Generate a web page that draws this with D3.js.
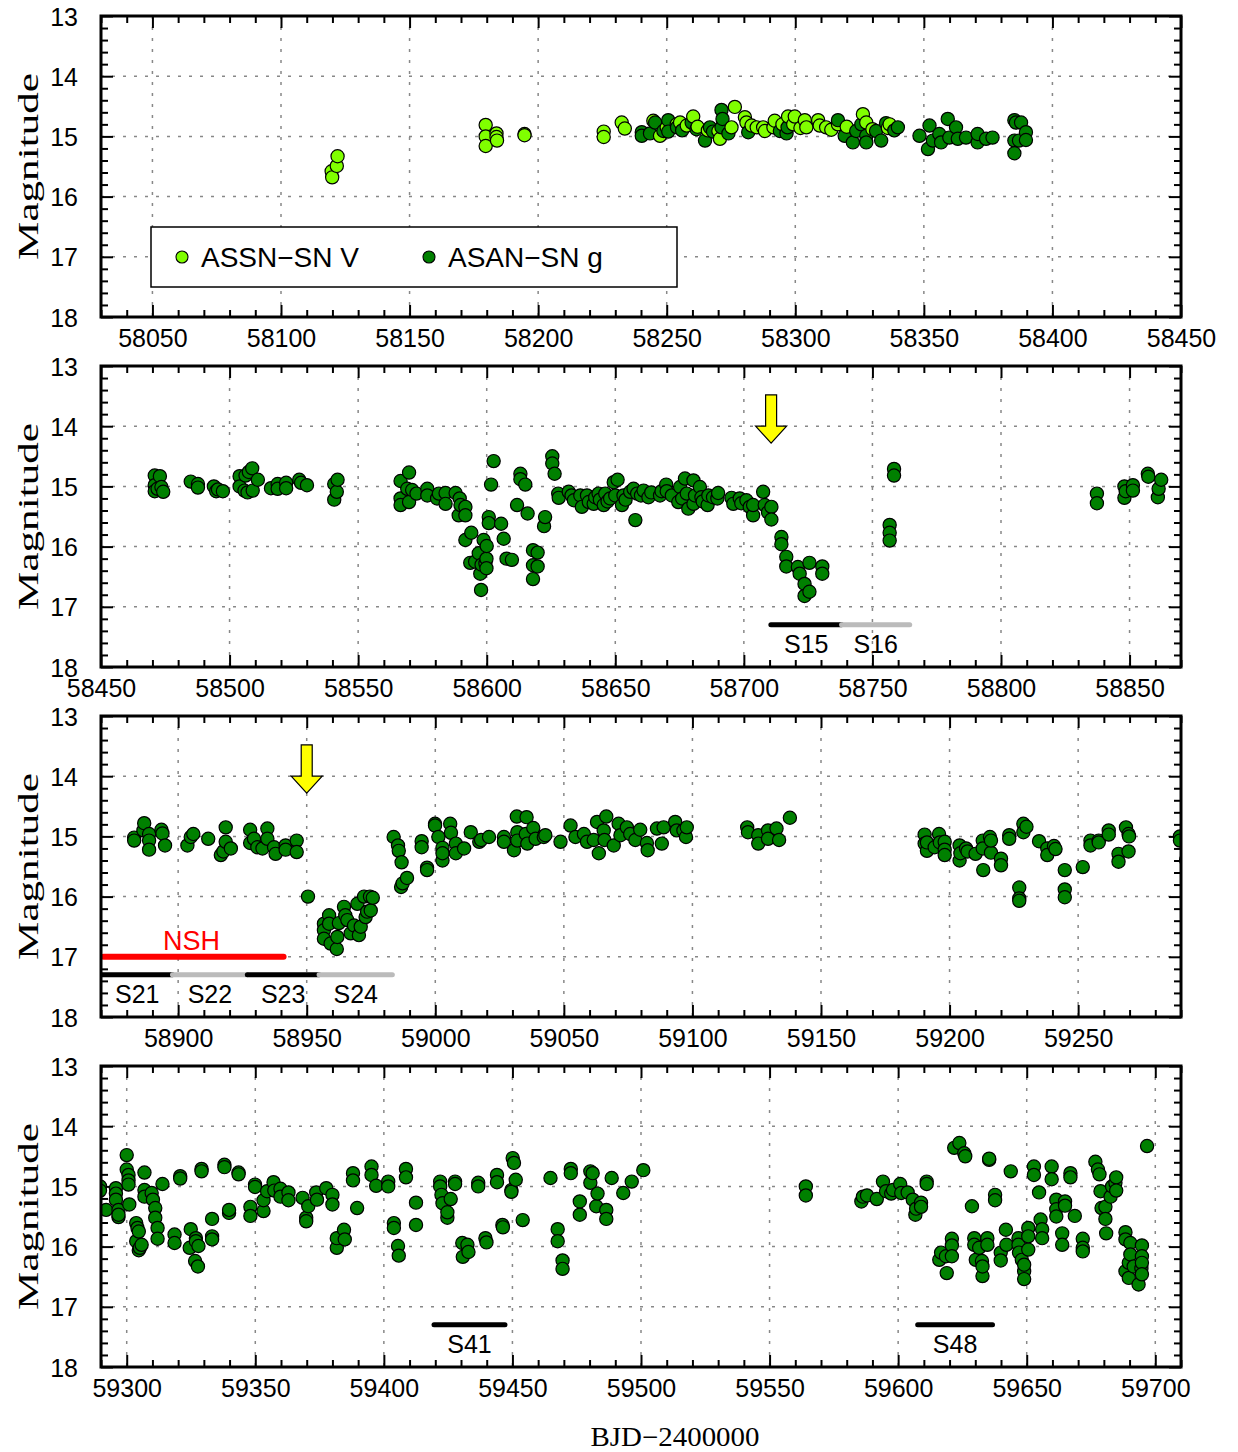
<!doctype html>
<html lang="en">
<head>
<meta charset="utf-8">
<title>ASAS-SN light curve</title>
<script src="https://d3js.org/d3.v7.min.js"></script>
<style>
  body { margin: 0; background: #fff; }
  svg { display: block; }
  .tick text { font-family: "Liberation Sans", Arial, sans-serif; font-size: 25px; fill: #000; }
  .tick line { stroke: #000; stroke-width: 2; }
  .grid { stroke: #888; stroke-width: 1.5; stroke-dasharray: 3,8; }
  .dot { stroke: #000; stroke-width: 1.2; }
</style>
</head>
<body>
<script>
// panel ranges (BJD-2400000), each 420 days wide
const panelStart = [58030, 58450, 58870, 59290];
const panelSpan = 420;

// ASAS-SN V band, [day, mag]
const vPanel1 = [
  [58119.9,15.68],[58119.7,15.58],[58121.7,15.49],[58122.0,15.33],
  [58179.6,14.81],[58179.6,15.0],[58179.6,15.16],[58183.8,14.95],[58183.8,15.01],[58184,15.07],
  [58194.7,14.96],[58194.7,14.98],
  [58225.5,14.92],[58225.5,15.01],[58232.5,14.77],[58233.7,14.87],
  [58244.8,14.74],[58247.4,14.99],[58250,14.85],[58253.9,14.80],[58255.2,14.77],[58257.8,14.82],[58260.3,14.67],
  [58262,14.84],[58266,14.9],[58270.1,14.91],[58270.7,15.04],[58275.2,14.85],[58276.5,14.51],[58280.4,14.68],
  [58281,14.77],[58283,14.82],[58285,14.85],[58287.5,14.85],[58288.2,14.91],[58291.5,14.85],[58292,14.74],
  [58295,14.8],[58297.2,14.67],[58299.2,14.80],[58299.8,14.67],[58302,14.86],[58303.7,14.73],[58304.3,14.85],
  [58308.9,14.73],[58309.5,14.82],[58312,14.85],[58314,14.89],[58316.6,14.8],[58320,14.84],[58326.3,14.63],
  [58327.6,14.77],[58330,14.88],[58336,14.86],[58336.7,14.80]
];

// ASAS-SN g band, [day, mag]
const gPanel1 = [
  [58240.3,14.93],[58240.3,14.99],[58243.5,14.95],[58245.5,14.77],[58248.7,14.91],[58250.6,14.73],[58250.6,14.92],
  [58254,14.85],[58256,14.9],[58259.7,14.77],[58261.6,14.88],[58264.9,15.07],[58266.8,14.85],[58268,14.92],
  [58271.3,14.56],[58271.7,14.71],[58271.3,14.85],[58274,14.95],[58281.7,14.93],[58294,14.91],[58296.6,14.95],
  [58297,14.85],[58316.6,14.73],[58319.2,14.99],[58322.4,15.1],[58323.7,14.91],[58325.7,14.8],[58327.6,14.99],
  [58327.6,15.10],[58331.4,14.91],[58333.4,15.07],[58335.3,14.78],[58338.5,14.9],[58339.9,14.85],
  [58348.3,14.99],[58351.6,15.21],[58352.2,14.82],[58353.5,15.07],[58356,14.96],[58356.7,15.1],[58359.3,14.71],
  [58359.9,15.02],[58362.5,14.85],[58363.2,15.04],[58366.4,15.02],[58370.9,15.1],[58370.9,14.96],[58374.2,15.04],
  [58376.7,15.02],
  [58385.2,14.73],[58385.8,14.77],[58387.8,14.77],[58389.7,14.93],[58385.2,15.07],[58387,15.07],[58385.2,15.28],
  [58389.7,15.06]
];
const gPanel2 = [
  [58470.9,14.82],[58472.9,14.83],[58470.9,14.98],[58470.9,15.08],[58473.5,15.01],[58474.2,15.09],[58472,15.04],
  [58484.9,14.92],[58487.7,14.96],[58487.7,15.02],
  [58493.9,15.0],[58494.8,15.08],[58497.4,15.08],[58495.5,15.05],
  [58503.9,14.83],[58503.9,15.0],[58506.2,14.82],[58507.5,14.76],[58508.8,14.70],[58505.8,15.07],[58509,15.07],
  [58511,14.89],[58507,15.1],
  [58516.1,15.03],[58518.7,14.96],[58518.7,15.04],[58522,14.94],[58522,15.03],
  [58527.1,14.89],[58527.8,14.94],[58530.1,14.98],
  [58540.7,14.96],[58542,14.89],[58541.7,15.09],[58540.7,15.22],
  [58566.5,14.91],[58569.8,14.77],[58566.5,15.2],[58566.5,15.31],[58569.8,15.26],[58569.1,15.04],[58571,15.06],
  [58572.7,15.12],
  [58576.9,15.04],[58576.9,15.15],[58580.7,15.2],[58581.4,15.12],[58584,15.11],[58584,15.29],[58587.9,15.11],
  [58589.5,15.2],[58589.8,15.31],[58591.7,15.34],[58589.1,15.48],[58591.7,15.48],
  [58591.7,15.89],[58594,15.77],[58593.6,16.27],[58595.5,16.25],
  [58598.8,15.89],[58600,15.99],[58596.9,16.11],[58597.5,16.45],[58597.8,16.72],[58599.9,16.2],[58599.9,16.36],
  [58599.5,16.28],[58598,16.3],
  [58600.8,15.51],[58600.8,15.61],[58601.7,14.97],[58602.7,14.58],
  [58605.6,15.62],[58606.6,15.87],[58607.7,16.2],[58609.8,16.22],
  [58611.8,15.31],[58613.1,14.79],[58613.1,14.88],[58615,14.97],[58615.9,15.45],
  [58618,16.06],[58619.8,16.1],[58618,16.31],[58619.8,16.33],[58618,16.54],
  [58622.7,15.51],[58622.3,15.66],
  [58625.5,14.50],[58625.5,14.62],[58626.4,14.79],
  [58627.8,15.12],[58628,15.19],[58631.9,15.09],[58633,15.15],[58633.9,15.23],
  [58636.4,15.15],[58637,15.34],[58639,15.15],[58639.7,15.26],[58641.6,15.29],[58642.2,15.18],[58643.5,15.12],
  [58644,15.22],[58645.5,15.31],[58646.1,15.12],[58647,15.25],[58648,15.2],[58649.4,14.93],[58650.9,14.89],
  [58650,15.15],[58652.6,15.31],[58653.2,15.15],[58654,15.22],[58655.8,15.09],[58657.1,15.04],[58657.8,15.56],
  [58658.5,15.12],[58660,15.15],[58661,15.07],[58662.9,15.18],[58664,15.1],[58667.4,15.15],[58668,15.08],
  [58669.8,14.97],[58670,15.08],[58672,15.15],
  [58674.5,15.26],[58675.2,15.01],[58676,15.2],[58677.1,14.87],[58677.8,15.12],[58678.4,15.37],[58680.4,14.9],
  [58680.4,15.29],[58681,15.15],[58682.9,15.01],[58683.5,15.18],[58684,15.25],[58685.9,15.31],[58686.2,15.15],
  [58688,15.18],[58689.7,15.2],[58690,15.11],
  [58695.2,15.19],[58695.9,15.29],[58698.4,15.2],[58699,15.28],[58701,15.23],[58702.3,15.34],[58703.6,15.48],
  [58703.6,15.31],[58707.5,15.09],[58708.1,15.31],[58709.4,15.43],[58710.7,15.34],[58710.7,15.55],
  [58714.6,15.84],[58714.6,15.96],[58716.5,16.17],[58716.5,16.33],[58721,16.34],[58721.7,16.45],[58723.6,16.62],
  [58723.6,16.82],[58725.5,16.75],[58725.5,16.27],[58730.5,16.33],[58730.5,16.45],
  [58756.7,15.64],[58756.7,15.77],[58756.7,15.9],[58758.4,14.71],[58758.4,14.82],
  [58837.3,15.12],[58837.3,15.28],[58848,15.0],[58848,15.19],[58848.5,15.08],[58851.3,14.98],[58851.3,15.07],
  [58857.1,14.79],[58857.3,14.84],[58861,15.18],[58861.3,15.04],[58862.3,14.89]
];
const gPanel3 = [
  [58882.9,15.02],[58882.9,15.07],[58886.8,14.78],[58886.5,14.90],[58888.7,14.96],[58888.7,15.07],[58888.7,15.22],
  [58893.5,14.89],[58893.9,14.95],[58894.9,15.15],
  [58903.6,15.15],[58904.9,15.01],[58905.9,14.96],[58911.7,15.04],[58916.6,15.31],[58918.5,14.85],[58918.5,15.09],
  [58920.5,15.2],[58917.6,15.25],
  [58928,14.89],[58928,15.11],[58929.5,15.04],[58930.8,15.18],[58932.8,15.2],[58934.7,14.87],[58934.7,15.04],
  [58937.3,15.18],[58937.9,15.29],[58941.8,15.15],[58941.8,15.22],[58946.1,15.07],[58946.1,15.26],
  [58950.5,16.0],
  [58956.7,16.45],[58956.7,16.56],[58956.7,16.7],[58958.7,16.31],[58958.7,16.45],[58959.3,16.78],[58961.7,16.87],
  [58961.9,16.67],[58962.5,16.44],[58964.5,16.17],[58965,16.31],[58965.8,16.39],[58967.1,16.61],[58968.4,16.48],
  [58969.7,16.12],[58970.3,16.64],[58971,16.5],[58972.3,16.0],[58972.9,16.34],[58973.5,16.25],[58974.6,16.0],
  [58974.9,16.23],[58975.7,16.02],
  [58983.8,15.01],[58985.5,15.15],[58985.8,15.24],[58986.9,15.43],[58986.7,15.84],[58987.3,15.78],[58989,15.69],
  [58994.7,15.08],[58994.7,15.18],[58996.8,15.52],[58996.8,15.56],
  [58999.9,14.79],[58999.9,14.82],[59001.2,15.01],[59002.8,15.19],[59002.8,15.4],[59002.8,15.28],[59005.8,14.79],
  [59006.1,14.94],[59008,15.12],[59008,15.28],[59011.2,15.2],[59013.8,14.93],[59017.1,15.09],[59017.8,15.06],
  [59020.9,15.01],
  [59026.7,15.01],[59026.7,15.09],[59030.6,15.23],[59031.7,14.67],[59031.9,14.93],[59031.9,15.07],[59035.5,14.68],
  [59035.8,15.12],[59035.2,14.96],[59038.1,14.86],[59039,15.04],[59042.2,15.01],[59042.8,14.98],
  [59048.7,15.09],
  [59052.6,14.82],[59054.5,15.01],[59057.8,14.96],[59059,15.09],[59061.6,15.06],[59062.9,14.76],[59063.6,15.28],
  [59065.5,14.9],[59066.5,14.67],[59065.8,15.06],[59069.4,15.15],[59071.3,14.79],[59072,14.98],[59074.5,14.85],
  [59075.8,14.96],[59077.8,15.06],[59079.7,14.89],[59082.3,15.11],[59082.6,15.23],[59086.2,14.87],[59088.1,15.12],
  [59088.8,14.85],[59093.3,14.76],[59093.9,14.9],[59096.5,14.9],[59097.5,15.01],[59097.8,14.85],
  [59121.3,14.85],[59121.6,14.93],[59125.6,14.98],[59125.6,15.12],[59129.4,14.9],[59129.4,15.04],[59132.7,14.87],
  [59133.7,15.06],[59137.9,14.69],
  [59190.3,14.97],[59190.3,15.12],[59191.2,15.24],[59191.2,15.1],[59194.2,15.18],[59195.9,14.96],[59196.2,15.1],
  [59198.1,15.09],[59198.1,15.22],[59198.1,15.31],
  [59203.9,15.15],[59203.9,15.4],[59204.2,15.28],[59206.4,15.2],[59207,15.25],[59210.1,15.29],[59212.9,15.07],
  [59212.9,15.2],[59213.1,15.56],[59215.7,15.01],[59216.1,15.27],[59216.1,15.07],
  [59220,15.37],[59220,15.48],[59223.2,14.98],[59223.2,15.04],
  [59227.1,15.85],[59227.1,16.03],[59227.1,16.07],
  [59228.7,14.79],[59228.7,14.93],[59229.9,14.84],
  [59234.8,15.08],[59238,15.2],[59238,15.31],[59240.6,15.16],[59241.2,15.21],
  [59244.8,15.56],[59244.8,15.88],[59244.8,16.01],
  [59251.8,15.51],
  [59254.8,15.07],[59254.8,15.15],[59258,15.07],[59258,15.1],[59261.9,14.9],[59261.9,14.97],
  [59265.7,15.29],[59265.7,15.42],[59268.6,14.85],[59269.6,14.96],[59269.8,15.0],[59269.6,15.25],
  [59289.6,15.0],[59289.6,15.07]
];
const gPanel4 = [
  [59292,15.39],[59295.8,15.03],[59295.8,15.12],[59295.8,15.22],[59296.8,15.39],[59296.8,15.51],[59296.8,15.47],
  [59300,14.48],[59300,14.72],[59300.7,14.81],[59300.7,14.9],[59300.7,14.97],[59301,15.3],
  [59303.7,15.61],[59304.2,15.69],[59304.7,15.75],[59303.7,15.91],[59305.1,16.02],[59305.8,15.97],[59304.7,16.06],
  [59306.9,14.77],[59306.9,15.06],[59306.9,15.17],[59309.7,15.11],[59310.2,15.22],[59311.1,15.36],[59311.1,15.52],
  [59312,15.69],[59312,15.87],[59313.9,14.96],
  [59318.6,15.8],[59318.6,15.94],[59320.8,14.83],[59320.8,14.87],
  [59324.9,15.71],[59326.9,15.86],[59324.5,16.02],[59326.6,16.24],[59327.7,16.33],[59327.9,15.99],[59326.9,15.91],
  [59329.1,14.71],[59329.1,14.75],
  [59333.2,15.54],[59333.2,15.83],[59333.2,15.88],
  [59338,14.64],[59338,14.68],[59339.8,15.44],[59339.8,15.39],[59343.5,14.77],[59343.5,14.8],
  [59348.1,15.34],[59348.1,15.49],[59349.9,14.97],[59349.9,15.01],
  [59353.2,15.41],[59353.2,15.23],[59354.6,15.08],[59357.1,14.93],[59357.4,15.07],[59359.8,15.04],[59359.8,15.17],
  [59362.9,15.10],[59362.9,15.23],
  [59368.4,15.19],[59369.8,15.52],[59369.8,15.58],[59370.6,15.33],[59373.7,15.1],[59374,15.22],[59377.6,15.03],
  [59380,15.14],[59380,15.3],
  [59381.7,16.02],[59381.7,15.86],[59384.5,15.72],[59384.8,15.88],
  [59388,14.78],[59388,14.9],[59389.6,15.36],
  [59395.2,14.67],[59395.2,14.81],[59397,14.99],
  [59401.7,14.92],[59401.7,15.0],[59403.9,15.61],[59403.9,15.69],[59405.5,15.99],[59405.8,16.15],
  [59408.6,14.71],[59408.6,14.85],[59412.5,15.27],[59412.5,15.64],
  [59421.9,14.92],[59421.9,15.0],[59422.4,15.14],[59422.8,15.28],[59424.7,15.52],[59424.7,15.43],[59426,15.21],
  [59427.7,14.92],[59427.7,14.96],
  [59430.5,15.94],[59430.7,16.17],[59432.5,15.97],[59432.9,16.09],
  [59436.7,14.94],[59436.7,15.0],[59439.5,15.86],[59439.9,15.93],[59444,14.81],[59444,14.93],
  [59446.1,15.64],[59446.3,15.68],
  [59449.6,15.06],[59449.6,15.09],[59450.1,14.53],[59450.6,14.61],[59451.3,14.89],[59454,15.56],
  [59464.8,14.86],[59467.6,15.71],[59467.6,15.91],[59469.5,16.23],[59469.5,16.37],[59472.7,14.71],[59472.7,14.78],
  [59476.2,15.25],[59476.2,15.47],[59480.3,14.75],[59481.2,14.78],[59480.3,14.94],[59483.1,15.12],[59482.6,15.33],
  [59486.5,15.39],[59486.5,15.54],[59488.6,14.86],
  [59493.1,15.11],[59496.4,14.92],[59500.9,14.73],
  [59564.1,15.0],[59564.1,15.15],
  [59585.7,15.25],[59586.3,15.17],[59587.9,15.15],[59591.7,15.21],[59594.1,14.92],[59595.3,15.08],[59597.3,15.12],
  [59598,15.06],[59600.8,14.96],[59601.2,15.11],[59603.7,15.1],[59605.7,15.22],[59606.7,15.47],[59607,15.37],
  [59608.9,15.27],[59608.9,15.34],[59611.1,14.92],[59611.1,14.96],
  [59616,16.22],[59616.7,16.1],[59618.6,16.16],[59618.9,16.44],[59620.9,15.87],[59620.9,15.98],[59620.9,16.16],
  [59621.8,14.36],[59623.8,14.28],[59625.7,14.45],[59626.1,14.5],
  [59628.7,15.33],
  [59629.6,15.86],[59629.6,15.97],[59630.2,16.22],[59631.5,16.02],[59632.6,16.24],[59632.8,16.49],[59632.8,16.33],
  [59634.7,15.86],[59634.7,15.97],[59635.4,14.56],[59635.4,14.54],
  [59637.7,15.14],[59637.7,15.23],[59639.9,16.1],[59639.9,16.23],[59641.9,15.72],[59642.1,15.97],[59643.8,14.75],
  [59646.8,15.86],[59646.8,15.97],[59647,16.1],[59648.1,16.22],[59649,16.41],[59649,16.54],[59649,16.3],
  [59650.6,16.05],[59650.6,15.69],[59650.6,15.83],
  [59652.8,14.67],[59652.8,14.81],[59654.8,15.1],[59655.4,15.55],[59656,15.71],[59656,15.86],
  [59659.7,14.67],[59659.7,14.88],
  [59661.5,15.22],[59661.5,15.38],[59661.5,15.5],[59664.9,15.25],[59664.9,15.32],[59663.8,15.78],[59663.8,15.97],
  [59667,14.78],[59667,14.85],[59668.7,15.49],
  [59671.8,15.87],[59671.8,16.02],[59671.8,16.08],
  [59676.7,14.59],[59677.7,14.72],[59678.3,14.8],[59678.7,15.08],[59679.1,15.36],[59680.6,15.34],[59680.6,15.54],
  [59680.9,15.78],
  [59682.6,15.17],[59683.2,15.0],[59684.5,14.94],[59684.8,14.85],[59684.8,15.07],
  [59688.4,15.76],[59688.4,15.88],[59688.4,16.41],[59689.7,16.52],[59690.3,15.94],[59690.3,16.13],[59689.7,16.27],
  [59691.6,16.33],
  [59693.5,16.63],[59694.8,15.98],[59694.8,16.16],[59694.8,16.27],[59694.8,16.46],[59694.6,16.36],
  [59696.8,14.33]
];

// TESS sectors
const sectorNames = ["S15", "S16", "S21", "S22", "S23", "S24", "S41", "S48"];
const sectorStart = [58710.5, 58738.0, 58870.4, 58897.8, 58926.9, 58954.8, 59419.5, 59607.6];
const sectorEnd   = [58738.0, 58764.5, 58897.8, 58926.9, 58954.8, 58983.3, 59447.1, 59636.7];
const sectorMag = 17.3;

// NSH interval and arrows
const nshRange = [58871, 58941];
const nshMag = 17.0;
const arrowDays = [58710.6, 58950];
const arrowTipMag = 14.28, arrowHeadMag = 14.0, arrowTopMag = 13.48;

const yTicks = [13, 14, 15, 16, 17, 18];

const darkGreen = "#008000", lightGreen = "#80ff00";

// combine and sort so V and g interleave like the original plot
const allPoints = []
  .concat(vPanel1.map(d => ({day: d[0], mag: d[1], band: "V"})))
  .concat([].concat(gPanel1, gPanel2, gPanel3, gPanel4).map(d => ({day: d[0], mag: d[1], band: "g"})))
  .sort((a, b) => a.day - b.day);

const svg = d3.select("body").append("svg")
    .attr("width", 1238).attr("height", 1452);

const L = 101, W = 1080, H = 301;

panelStart.forEach(function(start, i) {
    const top = 16 + i * 350;
    const end = start + panelSpan;
    const x = d3.scaleLinear().domain([start, end]).range([L, L + W]);
    const y = d3.scaleLinear().domain([13, 18]).range([top, top + H]);
    const g = svg.append("g");

    g.append("clipPath").attr("id", "clip" + i)
      .append("rect").attr("x", L).attr("y", top).attr("width", W).attr("height", H);

    const major = d3.range(Math.ceil(start / 50) * 50, end + 0.01, 50);
    const minor = d3.range(Math.ceil(start / 10) * 10, end + 0.01, 10).filter(d => d % 50 !== 0);
    const yMinor = d3.range(13, 18.001, 0.2).map(d => +d.toFixed(1)).filter(d => !Number.isInteger(d));

    // grid
    g.selectAll(".gx").data(major.filter(d => d > start && d < end)).enter().append("line")
      .attr("class", "grid")
      .attr("x1", d => x(d)).attr("x2", d => x(d)).attr("y1", top).attr("y2", top + H);
    g.selectAll(".gy").data(yTicks.slice(1, -1)).enter().append("line")
      .attr("class", "grid")
      .attr("x1", L).attr("x2", L + W).attr("y1", d => y(d)).attr("y2", d => y(d));

    // inward ticks on all four sides
    const axes = [
      [d3.axisBottom(x).tickValues(major).tickSize(-12).tickPadding(12).tickFormat(d3.format("d")), "translate(0," + (top + H) + ")"],
      [d3.axisBottom(x).tickValues(minor).tickSize(-7).tickFormat(""), "translate(0," + (top + H) + ")"],
      [d3.axisTop(x).tickValues(major).tickSize(-12).tickFormat(""), "translate(0," + top + ")"],
      [d3.axisTop(x).tickValues(minor).tickSize(-7).tickFormat(""), "translate(0," + top + ")"],
      [d3.axisLeft(y).tickValues(yTicks).tickSize(-12).tickPadding(23).tickFormat(d3.format("d")), "translate(" + L + ",0)"],
      [d3.axisLeft(y).tickValues(yMinor).tickSize(-7).tickFormat(""), "translate(" + L + ",0)"],
      [d3.axisRight(y).tickValues(yTicks).tickSize(-12).tickFormat(""), "translate(" + (L + W) + ",0)"],
      [d3.axisRight(y).tickValues(yMinor).tickSize(-7).tickFormat(""), "translate(" + (L + W) + ",0)"]
    ];
    axes.forEach(function(a) {
        const ax = g.append("g").attr("transform", a[1]).call(a[0]);
        ax.select(".domain").remove();
        ax.attr("font-size", null).attr("font-family", null);
    });
    g.selectAll(".tick text").attr("dy", function() {
        return d3.select(this.parentNode.parentNode).attr("transform").indexOf("translate(0") === 0 ? "0.71em" : "0.36em";
    });

    // data
    const plot = g.append("g").attr("clip-path", "url(#clip" + i + ")");
    plot.selectAll(".dot")
      .data(allPoints.filter(d => d.day > start - 5 && d.day < end + 5))
      .enter().append("circle")
      .attr("class", "dot")
      .attr("cx", d => x(d.day))
      .attr("cy", d => y(d.mag))
      .attr("r", 6.6)
      .attr("fill", d => d.band === "V" ? lightGreen : darkGreen);

    // TESS sectors: alternate black / grey within contiguous runs
    sectorNames.forEach(function(name, k) {
        let run = 0, j = k;
        while (j > 0 && Math.abs(sectorStart[j] - sectorEnd[j - 1]) < 0.5) { run++; j--; }
        const shade = run % 2 === 1 ? "#bbb" : "#000";
        plot.append("line")
          .attr("x1", x(sectorStart[k])).attr("x2", x(sectorEnd[k]))
          .attr("y1", y(sectorMag)).attr("y2", y(sectorMag))
          .attr("stroke", shade).attr("stroke-width", 5).attr("stroke-linecap", "round");
        const mid = (sectorStart[k] + sectorEnd[k]) / 2;
        if (mid > start && mid < end) {
            plot.append("text")
              .attr("x", x(mid)).attr("y", y(sectorMag) + 28)
              .attr("text-anchor", "middle")
              .style("font-family", "'Liberation Sans', Arial, sans-serif")
              .style("font-size", "25px")
              .text(name);
        }
    });

    // NSH
    plot.append("line")
      .attr("x1", x(nshRange[0])).attr("x2", x(nshRange[1]))
      .attr("y1", y(nshMag)).attr("y2", y(nshMag))
      .attr("stroke", "#ff0000").attr("stroke-width", 6).attr("stroke-linecap", "round");
    const nshMid = (nshRange[0] + nshRange[1]) / 2;
    if (nshMid > start && nshMid < end) {
        plot.append("text")
          .attr("x", x(nshMid) - 2).attr("y", y(nshMag) - 7)
          .attr("text-anchor", "middle")
          .attr("fill", "#ff0000")
          .style("font-family", "'Liberation Sans', Arial, sans-serif")
          .style("font-size", "27px")
          .text("NSH");
    }

    // arrows
    arrowDays.filter(d => d > start && d < end).forEach(function(d) {
        const cx = x(d), tip = y(arrowTipMag), base = y(arrowHeadMag), tp = y(arrowTopMag);
        const path = d3.path();
        path.moveTo(cx - 5.5, tp);
        path.lineTo(cx + 5.5, tp);
        path.lineTo(cx + 5.5, base);
        path.lineTo(cx + 15.5, base);
        path.lineTo(cx, tip);
        path.lineTo(cx - 15.5, base);
        path.lineTo(cx - 5.5, base);
        path.closePath();
        plot.append("path").attr("d", path.toString())
          .attr("fill", "#ffff00").attr("stroke", "#000").attr("stroke-width", 1.2);
    });

    // frame
    g.append("rect").attr("x", L).attr("y", top).attr("width", W).attr("height", H)
      .attr("fill", "none").attr("stroke", "#000").attr("stroke-width", 3);

    // y label
    g.append("text")
      .attr("transform", "translate(27," + (top + H / 2) + ") rotate(-90)")
      .attr("text-anchor", "middle")
      .attr("dy", "0.35em")
      .attr("textLength", 187).attr("lengthAdjust", "spacingAndGlyphs")
      .style("font-family", "'Liberation Serif', 'Times New Roman', serif")
      .style("font-size", "30px")
      .text("Magnitude");

    // legend in first panel
    if (i === 0) {
        g.append("rect").attr("x", 151).attr("y", 227).attr("width", 526).attr("height", 60)
          .attr("fill", "#fff").attr("stroke", "#000").attr("stroke-width", 1.5);
        const items = [["ASSN\u2212SN V", lightGreen, 182], ["ASAN\u2212SN g", darkGreen, 429]];
        items.forEach(function(it) {
            g.append("circle").attr("cx", it[2]).attr("cy", 257).attr("r", 6)
              .attr("fill", it[1]).attr("stroke", "#000").attr("stroke-width", 1.1);
            g.append("text").attr("x", it[2] + 19).attr("y", 267)
              .style("font-family", "'Liberation Sans', Arial, sans-serif")
              .style("font-size", "28px")
              .text(it[0]);
        });
    }
});

svg.append("text")
  .attr("x", 675).attr("y", 1446)
  .attr("text-anchor", "middle")
  .attr("textLength", 169).attr("lengthAdjust", "spacingAndGlyphs")
  .style("font-family", "'Liberation Serif', 'Times New Roman', serif")
  .style("font-size", "27px")
  .text("BJD\u22122400000");
</script>
</body>
</html>
